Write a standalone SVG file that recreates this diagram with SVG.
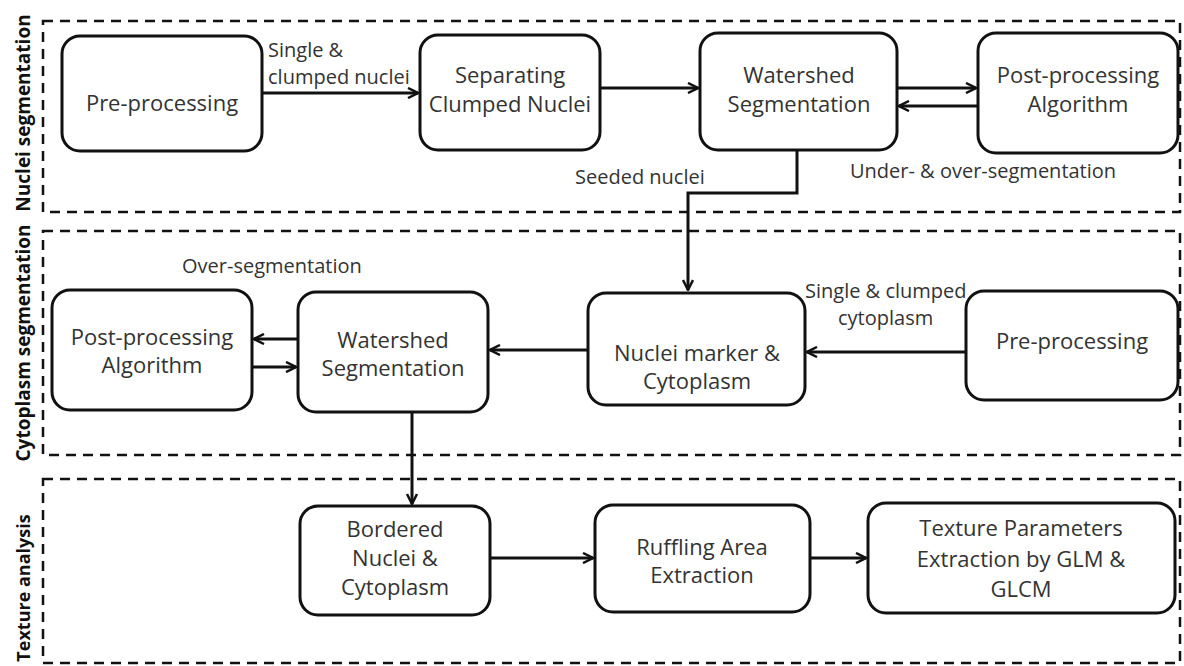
<svg xmlns="http://www.w3.org/2000/svg" width="1184" height="666" viewBox="0 0 1184 666">
<style>
.box{fill:#fff;stroke:#111;stroke-width:3}
.sec{fill:none;stroke:#111;stroke-width:2.5;stroke-dasharray:10 7}
.t{font-family:"Open Sans","Liberation Sans",sans-serif;font-size:22px;fill:#333;text-anchor:middle}
.l{font-family:"Open Sans","Liberation Sans",sans-serif;font-size:20px;fill:#333}
.side{font-family:"Open Sans","Liberation Sans",sans-serif;font-size:19px;font-weight:bold;fill:#111;text-anchor:middle}
.c{fill:none;stroke:#111;stroke-width:3}
</style>
<defs>
<marker id="ah" viewBox="0 0 12 12" refX="11" refY="6" markerWidth="12" markerHeight="12" markerUnits="userSpaceOnUse" orient="auto">
<path d="M1,1 L11,6 L1,11" fill="none" stroke="#111" stroke-width="2.5"/>
</marker>
</defs>
<g id="sections">
<rect class="sec" x="43" y="21" width="1137" height="191"/>
<rect class="sec" x="43" y="231" width="1137" height="224"/>
<rect class="sec" x="43" y="479" width="1137" height="184"/>
<text class="side" transform="translate(30,113) rotate(-90)">Nuclei segmentation</text>
<text class="side" transform="translate(30,343) rotate(-90)">Cytoplasm segmentation</text>
<text class="side" style="font-size:18px" transform="translate(30,588) rotate(-90)">Texture analysis</text>
</g>
<g id="connectors">
<line class="c" x1="262" y1="93" x2="418" y2="93" marker-end="url(#ah)"/>
<line class="c" x1="600" y1="88" x2="698" y2="88" marker-end="url(#ah)"/>
<line class="c" x1="897" y1="88" x2="976" y2="88" marker-end="url(#ah)"/>
<line class="c" x1="978" y1="106" x2="899" y2="106" marker-end="url(#ah)"/>
<polyline class="c" points="797,150 797,193 688,193 688,290" marker-end="url(#ah)"/>
<line class="c" x1="966" y1="352" x2="807" y2="352" marker-end="url(#ah)"/>
<line class="c" x1="588" y1="350" x2="490" y2="350" marker-end="url(#ah)"/>
<line class="c" x1="298" y1="339" x2="254" y2="339" marker-end="url(#ah)"/>
<line class="c" x1="252" y1="367" x2="296" y2="367" marker-end="url(#ah)"/>
<line class="c" x1="412" y1="412" x2="412" y2="504" marker-end="url(#ah)"/>
<line class="c" x1="490" y1="558" x2="593" y2="558" marker-end="url(#ah)"/>
<line class="c" x1="810" y1="558" x2="866" y2="558" marker-end="url(#ah)"/>
<text class="l" x="268" y="57">Single &amp;</text>
<text class="l" x="268" y="84">clumped nuclei</text>
<text class="l" x="575" y="184">Seeded nuclei</text>
<text class="l" x="850" y="178">Under- &amp; over-segmentation</text>
<text class="l" x="182" y="273">Over-segmentation</text>
<text class="l" x="805" y="298">Single &amp; clumped</text>
<text class="l" x="838" y="325">cytoplasm</text>
</g>
<g id="n1"><rect class="box" x="62" y="36" width="200" height="115" rx="18"/><text class="t" x="162" y="111">Pre-processing</text></g>
<g id="n2"><rect class="box" x="420" y="35" width="180" height="115" rx="18"/><text class="t" x="510" y="83">Separating</text><text class="t" x="510" y="112">Clumped Nuclei</text></g>
<g id="n3"><rect class="box" x="700" y="33" width="197" height="117" rx="18"/><text class="t" x="799" y="83">Watershed</text><text class="t" x="799" y="112">Segmentation</text></g>
<g id="n4"><rect class="box" x="978" y="33" width="200" height="120" rx="18"/><text class="t" x="1078" y="83">Post-processing</text><text class="t" x="1078" y="112">Algorithm</text></g>
<g id="n5"><rect class="box" x="52" y="290" width="200" height="120" rx="18"/><text class="t" x="152" y="345">Post-processing</text><text class="t" x="152" y="373">Algorithm</text></g>
<g id="n6"><rect class="box" x="298" y="292" width="190" height="120" rx="18"/><text class="t" x="393" y="348">Watershed</text><text class="t" x="393" y="376">Segmentation</text></g>
<g id="n7"><rect class="box" x="588" y="293" width="217" height="112" rx="18"/><text class="t" x="697" y="361">Nuclei marker &amp;</text><text class="t" x="697" y="389">Cytoplasm</text></g>
<g id="n8"><rect class="box" x="966" y="291" width="212" height="109" rx="18"/><text class="t" x="1072" y="349">Pre-processing</text></g>
<g id="n9"><rect class="box" x="300" y="506" width="190" height="109" rx="18"/><text class="t" x="395" y="537">Bordered</text><text class="t" x="395" y="566">Nuclei &amp;</text><text class="t" x="395" y="595">Cytoplasm</text></g>
<g id="n10"><rect class="box" x="595" y="505" width="215" height="107" rx="18"/><text class="t" x="702" y="555">Ruffling Area</text><text class="t" x="702" y="583">Extraction</text></g>
<g id="n11"><rect class="box" x="868" y="503" width="307" height="110" rx="18"/><text class="t" x="1021" y="536">Texture Parameters</text><text class="t" x="1021" y="567">Extraction by GLM &amp;</text><text class="t" x="1021" y="597">GLCM</text></g>
</svg>
